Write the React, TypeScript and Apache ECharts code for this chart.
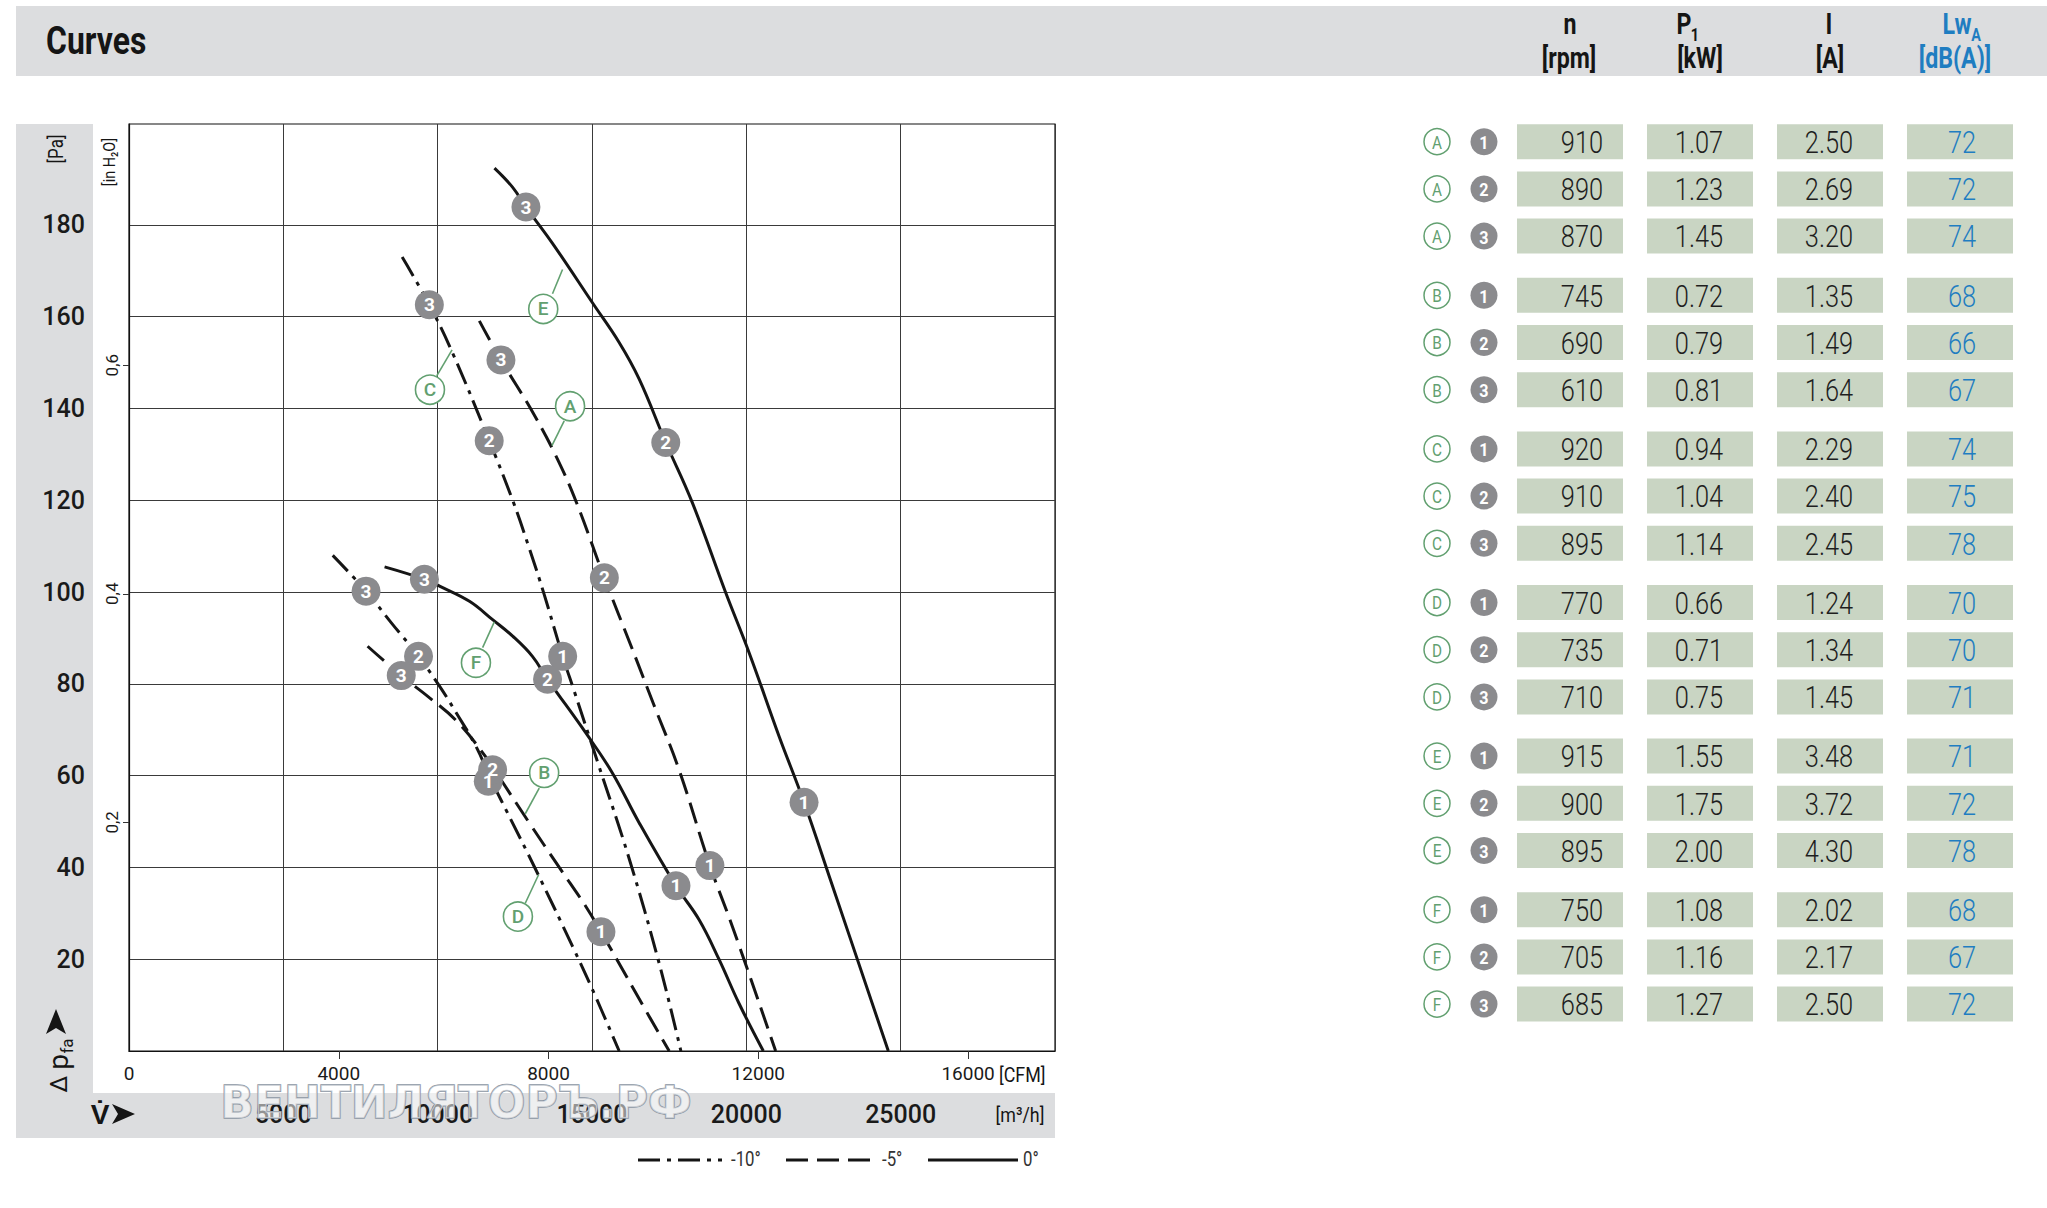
import React, { useEffect, useRef } from 'react';
import * as echarts from 'echarts';

const FONT = "Roboto, 'Liberation Sans', sans-serif";

// ---- axis data ----
const X_MAX = 30000; // m3/h
const Y_MAX = 202; // Pa
const M3H_PER_CFM = 1.69901;
const PA_PER_INH2O = 249.089;

const flowLabels = [5000, 10000, 15000, 20000, 25000];
const cfmLabels = [0, 4000, 8000, 12000, 16000];
const cfmTickMarks = [4000, 8000, 12000, 16000];
const paLabels = [20, 40, 60, 80, 100, 120, 140, 160, 180];
const paGrid = [0, 20, 40, 60, 80, 100, 120, 140, 160, 180];
const inH2OLabels = [0.2, 0.4, 0.6];

// ---- curves [m3/h, Pa] ----
const curveE = [[11840, 192.4], [12430, 188.2], [12860, 183.9], [13720, 176.0], [15020, 163.0], [15880, 154.4], [16530, 146.4], [17390, 132.6], [18250, 119.5], [19330, 99.9], [20090, 86.8], [21060, 68.6], [21870, 54.2], [22740, 37.0], [24600, 0]];
const curveA = [[11350, 159.1], [12050, 150.6], [13070, 139.3], [13830, 129.7], [14480, 119.8], [15400, 103.1], [16310, 87.5], [17000, 75.5], [17820, 61.3], [18820, 40.4], [19550, 27.1], [20950, 0]];
const curveC = [[8850, 173.0], [9730, 162.6], [10490, 152.0], [11670, 133.0], [12430, 120.0], [12970, 109.5], [13450, 99.5], [14050, 86.0], [14420, 78.5], [15180, 63.0], [16200, 42.0], [17180, 19.0], [17880, 0]];
const curveF = [[8280, 105.5], [9570, 102.8], [10060, 101.3], [11030, 98.0], [11780, 94.0], [12430, 90.4], [13070, 86.0], [13560, 81.0], [14800, 69.3], [15660, 60.6], [16530, 49.7], [17720, 36.0], [18470, 28.6], [19120, 19.9], [19760, 10.4], [20550, 0]];
const curveD = [[6600, 108.0], [7680, 100.2], [8500, 93.3], [9380, 86.0], [10060, 79.5], [10600, 73.7], [11240, 66.4], [11750, 58.8], [12210, 52.6], [13180, 39.5], [14370, 22.8], [15020, 13.3], [15880, 0]];
const curveB = [[7730, 88.2], [8820, 81.8], [9730, 77.0], [10600, 72.0], [11570, 64.0], [12110, 58.5], [12970, 49.7], [13940, 40.0], [14800, 31.5], [15290, 26.0], [15810, 19.9], [16550, 11.1], [17500, 0]];

// ---- operating points [m3/h, Pa, number] ----
const pointsE = [[12860, 183.9, '3'], [17390, 132.6, '2'], [21870, 54.2, '1']];
const pointsA = [[12050, 150.6, '3'], [15400, 103.1, '2'], [18820, 40.4, '1']];
const pointsC = [[9730, 162.6, '3'], [11670, 133.0, '2'], [14050, 86.0, '1']];
const pointsF = [[9570, 102.8, '3'], [13560, 81.0, '2'], [17720, 36.0, '1']];
const pointsD = [[7680, 100.2, '3'], [9380, 86.0, '2'], [11640, 58.8, '1']];
const pointsB = [[8820, 81.8, '3'], [11780, 61.3, '2'], [15290, 26.0, '1']];

// ---- curve letter tags [m3/h, Pa, letter] and leader lines ----
const tagPos = [[13420, 161.7, 'E'], [9750, 144.1, 'C'], [14290, 140.5, 'A'], [11240, 84.6, 'F'], [13450, 60.6, 'B'], [12600, 29.3, 'D']];
const tagLeaders = [
  [[13720, 165.0], [14045, 170.3]],
  [[9970, 147.1], [10466, 152.8]],
  [[14100, 137.3], [13702, 131.9]],
  [[11456, 87.9], [11835, 93.5]],
  [[13291, 57.3], [12838, 51.7]],
  [[12838, 32.2], [13269, 38.4]],
];

// ---- table ----
const groupLetters = ['A', 'B', 'C', 'D', 'E', 'F'];
const stepNumbers = ['1', '2', '3'];
const rpmValues = ['910', '890', '870', '745', '690', '610', '920', '910', '895', '770', '735', '710', '915', '900', '895', '750', '705', '685'];
const kwValues = ['1.07', '1.23', '1.45', '0.72', '0.79', '0.81', '0.94', '1.04', '1.14', '0.66', '0.71', '0.75', '1.55', '1.75', '2.00', '1.08', '1.16', '1.27'];
const ampValues = ['2.50', '2.69', '3.20', '1.35', '1.49', '1.64', '2.29', '2.40', '2.45', '1.24', '1.34', '1.45', '3.48', '3.72', '4.30', '2.02', '2.17', '2.50'];
const lwaValues = ['72', '72', '74', '68', '66', '67', '74', '75', '78', '70', '70', '71', '71', '72', '78', '68', '67', '72'];
const legendLabels = ['-10°', '-5°', '0°'];

// ---- styles ----
const GRAY_BAND = '#dcdddf';
const INK = '#151515';
const GREEN = '#62a070';
const POINT_GRAY = '#8b8b8e';
const BOX = '#c9d5c3';
const BLUE = '#1f7dc1';
const DASHED = [22, 9];
const DASHDOT = [22, 7, 4, 7];

function txt(text: string, x: number, y: number, size: number, opts: any = {}) {
  return {
    type: 'text',
    x,
    y,
    z: opts.z ?? 10,
    rotation: opts.rotation ?? 0,
    scaleX: opts.scaleX ?? 1,
    style: {
      text,
      fill: opts.fill ?? INK,
      fontSize: size,
      fontFamily: opts.family ?? FONT,
      fontWeight: opts.weight ?? 'normal',
      align: opts.align ?? 'center',
      textAlign: opts.align ?? 'center',
      verticalAlign: 'middle',
      textVerticalAlign: 'middle',
      stroke: opts.stroke,
      lineWidth: opts.lineWidth,
    },
  };
}

function buildGraphics() {
  const g: any[] = [];
  // gray bands
  g.push({ type: 'rect', z: -1, shape: { x: 16, y: 6, width: 2031, height: 70 }, style: { fill: GRAY_BAND } });
  g.push({ type: 'rect', z: -1, shape: { x: 16, y: 124, width: 77, height: 1014 }, style: { fill: GRAY_BAND } });
  g.push({ type: 'rect', z: -1, shape: { x: 16, y: 1093, width: 1039, height: 45 }, style: { fill: GRAY_BAND } });

  g.push(txt('Curves', 46, 41, 38, { align: 'left', weight: 'bold', scaleX: 0.84 }));

  // table headers
  const hs = 0.8;
  g.push(txt('n', 1570, 24, 29, { weight: 'bold', scaleX: hs }));
  g.push(txt('[rpm]', 1569, 58, 29, { weight: 'bold', scaleX: hs }));
  g.push(txt('P', 1684, 24, 29, { weight: 'bold', scaleX: hs }));
  g.push(txt('1', 1695, 35, 18, { weight: 'bold', scaleX: hs }));
  g.push(txt('[kW]', 1700, 58, 29, { weight: 'bold', scaleX: hs }));
  g.push(txt('I', 1829, 24, 29, { weight: 'bold', scaleX: hs }));
  g.push(txt('[A]', 1830, 58, 29, { weight: 'bold', scaleX: hs }));
  g.push(txt('Lw', 1957, 24, 29, { weight: 'bold', fill: BLUE, scaleX: hs }));
  g.push(txt('A', 1976, 35, 18, { weight: 'bold', fill: BLUE, scaleX: hs }));
  g.push(txt('[dB(A)]', 1955, 58, 29, { weight: 'bold', fill: BLUE, scaleX: hs }));

  // table rows
  const boxX = [1517, 1647, 1777, 1907];
  const textX = [1582, 1699, 1829, 1962];
  for (let gi = 0; gi < groupLetters.length; gi++) {
    for (let si = 0; si < stepNumbers.length; si++) {
      const idx = gi * 3 + si;
      const cy = 141.7 + gi * 153.6 + si * 47.2;
      g.push({ type: 'circle', z: 10, shape: { cx: 1437, cy, r: 13 }, style: { fill: '#fff', stroke: GREEN, lineWidth: 1.5 } });
      g.push(txt(groupLetters[gi], 1437, cy + 1, 18, { fill: GREEN, scaleX: 0.85 }));
      g.push({ type: 'circle', z: 10, shape: { cx: 1484, cy, r: 13.5 }, style: { fill: POINT_GRAY } });
      g.push(txt(stepNumbers[si], 1484, cy + 1, 19, { fill: '#fff', weight: 'bold', scaleX: 0.85 }));
      const vals = [rpmValues[idx], kwValues[idx], ampValues[idx], lwaValues[idx]];
      for (let c = 0; c < 4; c++) {
        g.push({ type: 'rect', z: 9, shape: { x: boxX[c], y: cy - 17.5, width: 106, height: 35 }, style: { fill: BOX } });
        g.push(txt(vals[c], textX[c], cy + 1, 31, { fill: c === 3 ? BLUE : '#1e1e1e', weight: 300, scaleX: 0.82 }));
      }
    }
  }

  // y axis titles
  g.push(txt('[Pa]', 57, 149, 20, { rotation: Math.PI / 2, scaleX: 0.85 }));
  g.push(txt('[in H₂O]', 109, 162, 17, { rotation: Math.PI / 2, scaleX: 0.85 }));
  g.push({ type: 'polygon', z: 10, shape: { points: [[56, 1009], [66, 1034], [56, 1028], [46, 1034]] }, style: { fill: INK } });
  g.push({
    type: 'group', x: 62, y: 1067, rotation: Math.PI / 2, z: 10,
    children: [
      txt('Δ', -17, -3, 24),
      txt('p', 5, -4, 28),
      txt('fa', 21, 5, 17),
    ],
  });

  // x axis titles
  g.push(txt('V̇', 100, 1114, 28, { weight: 'bold' }));
  g.push({ type: 'polygon', z: 10, shape: { points: [[135, 1114], [112, 1104], [118, 1114], [112, 1124]] }, style: { fill: INK } });
  g.push(txt('[m³/h]', 1020, 1115, 21, { scaleX: 0.85 }));
  g.push(txt('[CFM]', 999, 1075, 21, { align: 'left', scaleX: 0.85 }));

  // watermark
  g.push(txt('ВЕНТИЛЯТОРЪ.РФ', 456, 1102, 44, { family: "'DejaVu Sans', sans-serif", weight: 'bold', fill: 'rgba(255,255,255,0.55)', stroke: '#8c96a3', lineWidth: 1.5, z: 50 }));

  // legend
  const legend = [
    { x1: 638, x2: 722, dash: DASHDOT, tx: 731 },
    { x1: 786, x2: 875, dash: DASHED, tx: 882 },
    { x1: 928, x2: 1018, dash: null, tx: 1023 },
  ];
  legend.forEach((l, i) => {
    g.push({ type: 'line', z: 10, shape: { x1: l.x1, y1: 1160, x2: l.x2, y2: 1160 }, style: { stroke: INK, lineWidth: 3, lineDash: l.dash || undefined } });
    g.push(txt(legendLabels[i], l.tx, 1159, 21, { align: 'left', fill: '#333', scaleX: 0.8 }));
  });
  return g;
}

function buildOption() {
  const curveDefs = [
    { data: curveE, dash: 'solid' as any },
    { data: curveF, dash: 'solid' as any },
    { data: curveA, dash: DASHED },
    { data: curveB, dash: DASHED },
    { data: curveC, dash: DASHDOT },
    { data: curveD, dash: DASHDOT },
  ];
  const curveSeries = curveDefs.map((c) => ({
    type: 'line',
    data: c.data,
    smooth: 0.4,
    showSymbol: false,
    symbol: 'none',
    silent: true,
    z: 2,
    lineStyle: { color: INK, width: 3, type: c.dash, cap: 'butt' },
  }));
  const allPoints = [...pointsE, ...pointsA, ...pointsC, ...pointsF, ...pointsD, ...pointsB];
  const axisLabelBase = { fontFamily: FONT, color: '#1a1a1a' };
  const plain = (v: number) => String(v);
  return {
    animation: false,
    grid: { left: 129, top: 124, width: 926, height: 927, show: true, borderColor: '#111', borderWidth: 1.2, backgroundColor: '#fff' },
    xAxis: [
      {
        type: 'value', min: 0, max: X_MAX, interval: 5000, position: 'bottom',
        axisLine: { show: true, onZero: false, lineStyle: { color: '#111', width: 1.2 } },
        axisTick: { show: false },
        axisLabel: { ...axisLabelBase, customValues: flowLabels, formatter: plain, margin: 51, fontSize: 25, fontWeight: 500 },
        splitLine: { show: true, lineStyle: { color: '#3a3a3a', width: 1 } },
      },
      {
        type: 'value', min: 0, max: X_MAX / M3H_PER_CFM, position: 'bottom',
        axisLine: { show: false },
        axisTick: { show: true, customValues: cfmTickMarks, length: 8, lineStyle: { color: '#333' } },
        axisLabel: { ...axisLabelBase, customValues: cfmLabels, formatter: plain, margin: 13, fontSize: 19 },
        splitLine: { show: false },
      },
    ],
    yAxis: [
      {
        type: 'value', min: 0, max: Y_MAX, interval: 20, position: 'left',
        axisLine: { show: true, onZero: false, lineStyle: { color: '#111', width: 1.2 } },
        axisTick: { show: false, customValues: paGrid },
        axisLabel: { ...axisLabelBase, customValues: paLabels, formatter: plain, margin: 44, fontSize: 25, fontWeight: 500 },
        splitLine: { show: true, lineStyle: { color: '#3a3a3a', width: 1 } },
      },
      {
        type: 'value', min: 0, max: Y_MAX / PA_PER_INH2O, position: 'left',
        axisLine: { show: false },
        axisTick: { show: true, customValues: inH2OLabels, length: 6, lineStyle: { color: '#333' } },
        axisLabel: { ...axisLabelBase, customValues: inH2OLabels, rotate: 90, margin: 9, fontSize: 17, formatter: (v: number) => v.toFixed(1).replace('.', ',') },
        splitLine: { show: false },
      },
    ],
    series: [
      ...curveSeries,
      {
        type: 'lines', coordinateSystem: 'cartesian2d', xAxisIndex: 0, yAxisIndex: 0, silent: true, z: 3,
        data: tagLeaders.map((l) => ({ coords: l })),
        lineStyle: { color: GREEN, width: 1.6, opacity: 1, curveness: 0 },
      },
      {
        type: 'scatter', silent: true, z: 4, symbol: 'circle', symbolSize: 29,
        data: tagPos.map((t) => ({ value: [t[0], t[1]], name: t[2] })),
        itemStyle: { color: '#fff', borderColor: GREEN, borderWidth: 1.6, opacity: 1 },
        label: { show: true, position: 'inside', formatter: '{b}', color: GREEN, fontSize: 19, fontWeight: 500, fontFamily: FONT },
        emphasis: { disabled: true },
      },
      {
        type: 'scatter', silent: true, z: 5, symbol: 'circle', symbolSize: 29,
        data: allPoints.map((p) => ({ value: [p[0], p[1]], name: p[2] })),
        itemStyle: { color: POINT_GRAY, opacity: 1 },
        label: { show: true, position: 'inside', formatter: '{b}', color: '#fff', fontSize: 19, fontWeight: 'bold', fontFamily: FONT },
        emphasis: { disabled: true },
      },
    ],
    graphic: { elements: buildGraphics() },
  };
}

export default function App() {
  const ref = useRef<HTMLDivElement>(null);
  useEffect(() => {
    const chart = echarts.init(ref.current!, null, { renderer: 'svg' });
    chart.setOption(buildOption() as any);
    return () => chart.dispose();
  }, []);
  return <div ref={ref} style={{ position: 'absolute', left: 0, top: 0, width: 2047, height: 1208, background: '#fff' }} />;
}
